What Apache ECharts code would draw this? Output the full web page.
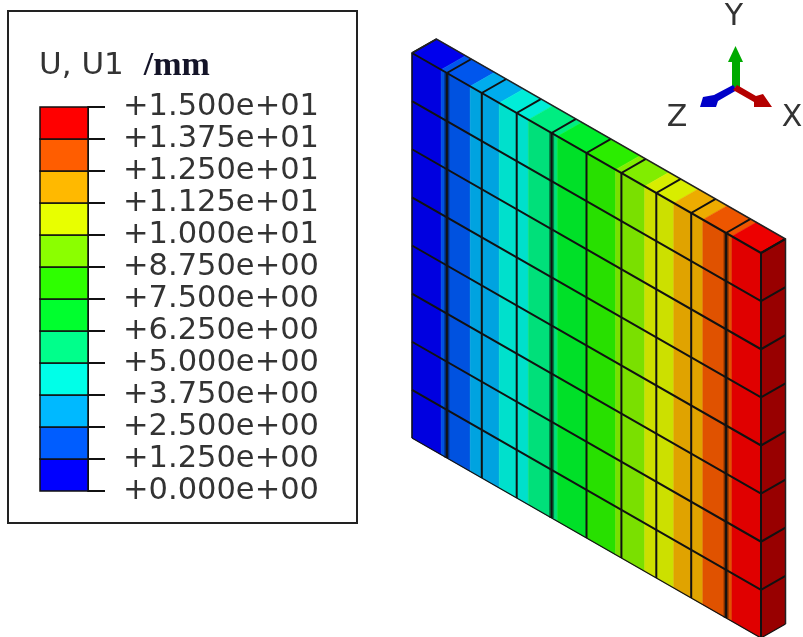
<!DOCTYPE html>
<html>
<head>
<meta charset="utf-8">
<style>
  html, body { margin: 0; padding: 0; background: #fff; }
  #chart { width: 803px; height: 637px; }
</style>
<script src="https://cdn.jsdelivr.net/npm/echarts@6/dist/echarts.min.js"></script>
</head>
<body>
<div id="chart"></div>
<script>
// contour levels of U1 (mm), bottom to top of the legend
const contourLevels = [0, 1.25, 2.5, 3.75, 5, 6.25, 7.5, 8.75, 10, 11.25, 12.5, 13.75, 15];
const contourColors = ['#0000ff', '#005dff', '#00b9ff', '#00ffe8', '#00ff8b', '#00ff2e',
  '#2eff00', '#8bff00', '#e8ff00', '#ffb900', '#ff5d00', '#ff0000'];
const tickLabels = ['+0.000e+00', '+1.250e+00', '+2.500e+00', '+3.750e+00', '+5.000e+00', '+6.250e+00',
  '+7.500e+00', '+8.750e+00', '+1.000e+01', '+1.125e+01', '+1.250e+01', '+1.375e+01', '+1.500e+01'];
// element edges of the mesh
const meshU = [0, 1.5, 3, 4.5, 6, 7.5, 9, 10.5, 12, 13.5, 15];
const meshRows = [0, 1, 2, 3, 4, 5, 6, 7, 8];

// these mesh lines look doubled in the picture
const wideColumns = [1.5, 6, 13.5];

const FONT = '"DejaVu Sans", sans-serif';
const TEXT = '#333';
const PLATE_LEFT = 412;
const SHEAR = 0.573; // drop of the plate per pixel to the right
const DEPTH = [24.5, -14]; // thickness of the plate on screen

function shade(hex, k) {
  const n = parseInt(hex.slice(1), 16);
  return 'rgb(' + Math.round((n >> 16) * k) + ',' + Math.round(((n >> 8) & 255) * k) + ',' + Math.round((n & 255) * k) + ')';
}

// plate point: scale first, then shear it and push it back if it is on the rear face
function plate(api, u, row, back) {
  const p = api.coord([u, row]);
  const y = p[1] + (p[0] - PLATE_LEFT) * SHEAR;
  return back ? [p[0] + DEPTH[0], y + DEPTH[1]] : [p[0], y];
}

function renderLegendCell(params, api) {
  const a = api.coord([0, api.value(0)]);
  const b = api.coord([1, api.value(1)]);
  return {
    type: 'rect',
    shape: { x: a[0], y: b[1], width: b[0] - a[0], height: a[1] - b[1] },
    style: { fill: contourColors[params.dataIndex], stroke: '#111', lineWidth: 1.5 },
  };
}

function renderBand(params, api) {
  const lo = api.value(0);
  const hi = api.value(1);
  const color = contourColors[params.dataIndex];
  return {
    type: 'group',
    children: [{
      type: 'polygon',
      shape: { points: [plate(api, lo, 0), plate(api, hi, 0), plate(api, hi, 8), plate(api, lo, 8)] },
      style: { fill: shade(color, 0.88), stroke: shade(color, 0.88), lineWidth: 0.5 },
    }, {
      type: 'polygon',
      shape: { points: [plate(api, lo, 0), plate(api, hi, 0), plate(api, hi, 0, true), plate(api, lo, 0, true)] },
      style: { fill: shade(color, 0.93), stroke: shade(color, 0.93), lineWidth: 0.5 },
    }],
  };
}

function renderSide(params, api) {
  const u = api.value(0);
  return {
    type: 'polygon',
    shape: { points: [plate(api, u, 0), plate(api, u, 0, true), plate(api, u, 8, true), plate(api, u, 8)] },
    style: { fill: '#980000' },
  };
}

function renderColumnLine(params, api) {
  const u = api.value(0);
  const children = [{
    type: 'polyline',
    shape: { points: [plate(api, u, 0, true), plate(api, u, 0), plate(api, u, 8)] },
    style: { fill: null, stroke: '#111', lineWidth: u === 0 ? 1.5 : 2 },
  }];
  if (wideColumns.indexOf(u) >= 0) {
    children.unshift({
      type: 'polyline',
      shape: { points: [plate(api, u, 0), plate(api, u, 8)] },
      style: { fill: null, stroke: 'rgba(0,0,0,0.45)', lineWidth: 5 },
    });
  }
  return { type: 'group', children };
}

function renderRowLine(params, api) {
  const row = api.value(0);
  return {
    type: 'polyline',
    shape: { points: [plate(api, 0, row), plate(api, 15, row), plate(api, 15, row, true)] },
    style: { fill: null, stroke: '#111', lineWidth: row === 8 ? 1.2 : 2 },
  };
}

// rear outline of the plate
function renderOutline(params, api) {
  return {
    type: 'polyline',
    shape: { points: [plate(api, 0, 0), plate(api, 0, 0, true), plate(api, 15, 0, true), plate(api, 15, 8, true)] },
    style: { fill: null, stroke: '#222', lineWidth: 1.5 },
  };
}

const option = {
  animation: false,
  backgroundColor: '#fff',
  title: {
    left: 34,
    top: 44,
    text: '{a|U, U1}{b|/mm}',
    textStyle: {
      rich: {
        a: { fontFamily: FONT, fontSize: 31, fontWeight: 'normal', color: TEXT },
        b: { fontFamily: '"Liberation Serif", serif', fontSize: 34, fontWeight: 'bold', color: '#141428', padding: [0, 0, 0, 20] },
      },
    },
  },
  grid: [
    { left: 40, top: 107, width: 48, height: 384 }, // legend bar
    { left: PLATE_LEFT, top: 53, width: 349, height: 385 }, // plate front face
  ],
  xAxis: [
    { gridIndex: 0, type: 'value', min: 0, max: 1, show: false },
    { gridIndex: 1, type: 'value', min: 0, max: 15, show: false },
  ],
  yAxis: [
    {
      gridIndex: 0,
      type: 'value',
      position: 'right',
      min: 0,
      max: 15,
      interval: 1.25,
      splitLine: { show: false },
      axisLine: { show: true, onZero: false, lineStyle: { color: '#111', width: 2 } },
      axisTick: { show: true, length: 17, lineStyle: { color: '#111', width: 2 } },
      axisLabel: {
        margin: 35,
        fontFamily: FONT,
        fontSize: 30.5,
        color: TEXT,
        verticalAlignMinLabel: 'middle',
        verticalAlignMaxLabel: 'middle',
        padding: [0, 0, 4, 0],
        formatter: (value) => tickLabels[contourLevels.indexOf(value)],
      },
    },
    { gridIndex: 1, type: 'value', min: 0, max: 8, inverse: true, show: false },
  ],
  graphic: [
    // legend frame
    {
      type: 'rect',
      shape: { x: 8, y: 11, width: 349, height: 512 },
      style: { fill: 'none', stroke: '#222', lineWidth: 2 },
    },
    // triad
    {
      type: 'group',
      children: [
        { type: 'polygon', shape: { points: [[732, 87], [732, 62], [728, 62], [735.5, 46], [743, 62], [740, 62], [740, 87]] }, style: { fill: '#00aa00' } },
        { type: 'polygon', shape: { points: [[733, 85], [714, 95], [703, 97], [700, 107], [716, 107], [718, 101], [737, 90]] }, style: { fill: '#0000c8' } },
        { type: 'polygon', shape: { points: [[737, 85], [756, 96], [763, 94], [772, 107], [754, 107], [754, 102], [733, 90]] }, style: { fill: '#b40000' } },
        { type: 'text', style: { text: 'Y', x: 734, y: 17, align: 'center', verticalAlign: 'middle', font: '30px ' + FONT, fill: TEXT } },
        { type: 'text', style: { text: 'Z', x: 677, y: 118, align: 'center', verticalAlign: 'middle', font: '30px ' + FONT, fill: TEXT } },
        { type: 'text', style: { text: 'X', x: 792, y: 118, align: 'center', verticalAlign: 'middle', font: '30px ' + FONT, fill: TEXT } },
      ],
    },
  ],
  series: [
    {
      name: 'legend',
      type: 'custom',
      xAxisIndex: 0,
      yAxisIndex: 0,
      renderItem: renderLegendCell,
      data: contourColors.map((c, i) => [contourLevels[i], contourLevels[i + 1]]),
    },
    {
      name: 'bands',
      type: 'custom',
      xAxisIndex: 1,
      yAxisIndex: 1,
      renderItem: renderBand,
      data: contourColors.map((c, i) => [contourLevels[i], contourLevels[i + 1]]),
    },
    {
      name: 'side',
      type: 'custom',
      xAxisIndex: 1,
      yAxisIndex: 1,
      z: 3,
      renderItem: renderSide,
      data: [[15]],
    },
    {
      name: 'columns',
      type: 'custom',
      xAxisIndex: 1,
      yAxisIndex: 1,
      z: 4,
      renderItem: renderColumnLine,
      data: meshU.map((u) => [u]),
    },
    {
      name: 'rows',
      type: 'custom',
      xAxisIndex: 1,
      yAxisIndex: 1,
      z: 4,
      renderItem: renderRowLine,
      data: meshRows.map((r) => [r]),
    },
    {
      name: 'outline',
      type: 'custom',
      xAxisIndex: 1,
      yAxisIndex: 1,
      z: 4,
      renderItem: renderOutline,
      data: [[0]],
    },
  ],
};

const chart = echarts.init(document.getElementById('chart'));
chart.setOption(option);
</script>
</body>
</html>
